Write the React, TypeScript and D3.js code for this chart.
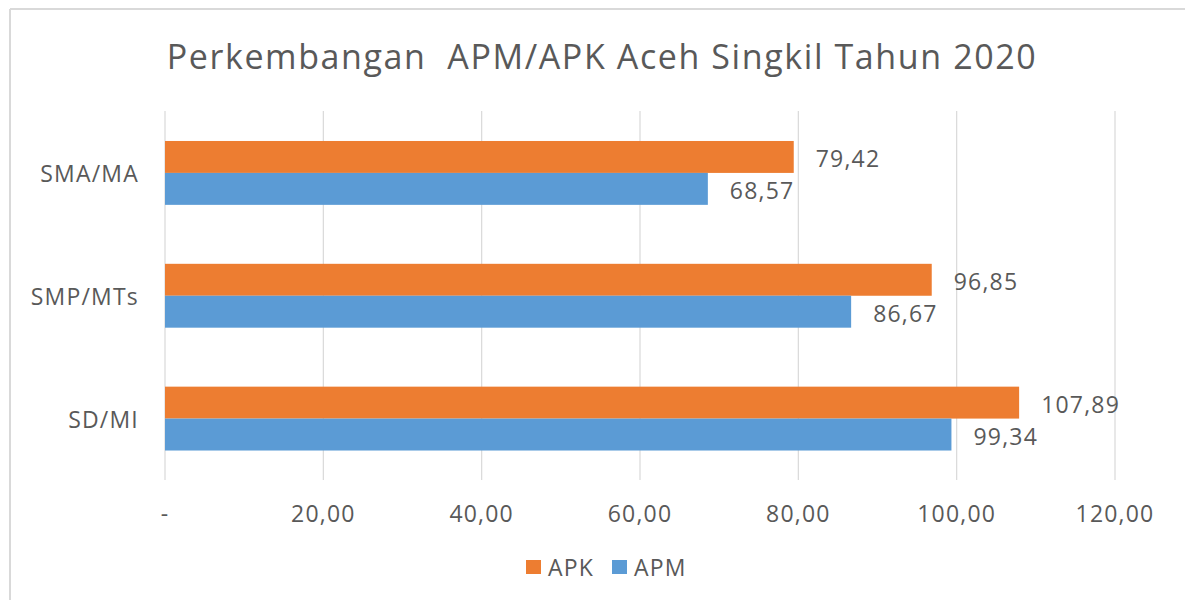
import React from "react";
import * as d3 from "d3";

const categories = ["SMA/MA", "SMP/MTs", "SD/MI"];
const seriesNames = ["APK", "APM"];
const apkValues = [79.42, 96.85, 107.89];
const apmValues = [68.57, 86.67, 99.34];
const xTicks = [0, 20, 40, 60, 80, 100, 120];
const colors = ["#ED7D31", "#5B9BD5"];

const W = 1185;
const H = 600;
const FONT = "'Open Sans', sans-serif";
const TXT = "#595959";
const FS = 23;
const LS = 1.2;

const fmt = (v: number) => (v === 0 ? "-" : v.toFixed(2).replace(".", ","));

export default function App() {
  const x = d3.scaleLinear().domain([0, 120]).range([165, 1115]);
  const y = d3.scaleBand<string>().domain(categories).range([111.5, 480]).paddingInner(0.48).paddingOuter(0.24);
  const inner = d3.scaleBand<string>().domain(seriesNames).range([0, y.bandwidth()]);
  const values = [apkValues, apmValues];

  return (
    <svg width={W} height={H} style={{ position: "absolute", left: 0, top: 0, background: "#fff" }}>
      <rect x={0} y={0} width={W} height={H} fill="#fff" />
      <line x1={10} x2={W} y1={9} y2={9} stroke="#d9d9d9" strokeWidth={2} />
      <line x1={10} x2={10} y1={9} y2={H} stroke="#d9d9d9" strokeWidth={2} />
      <text x={602} y={56} textAnchor="middle" dominantBaseline="central" fontFamily={FONT} fontSize={34} letterSpacing={1.6} fill={TXT} style={{ whiteSpace: "pre" }}>
        {"Perkembangan  APM/APK Aceh Singkil Tahun 2020"}
      </text>
      {xTicks.map((t) => (
        <g key={t}>
          <line x1={x(t)} x2={x(t)} y1={111} y2={480} stroke="#d9d9d9" strokeWidth={1.2} />
          <text x={x(t)} y={513} textAnchor="middle" dominantBaseline="central" fontFamily={FONT} fontSize={FS} letterSpacing={LS} fill={TXT}>
            {fmt(t)}
          </text>
        </g>
      ))}
      {categories.map((c, i) => (
        <g key={c}>
          <text x={139} y={(y(c) as number) + y.bandwidth() / 2} textAnchor="end" dominantBaseline="central" fontFamily={FONT} fontSize={FS} letterSpacing={LS} fill={TXT}>
            {c}
          </text>
          {seriesNames.map((s, j) => {
            const v = values[j][i];
            const by = (y(c) as number) + (inner(s) as number);
            return (
              <g key={s}>
                <rect x={x(0)} y={by} width={x(v) - x(0)} height={inner.bandwidth()} fill={colors[j]} />
                <text x={x(v) + 22} y={by + inner.bandwidth() / 2 + 1.5} dominantBaseline="central" fontFamily={FONT} fontSize={FS} letterSpacing={LS} fill={TXT}>
                  {fmt(v)}
                </text>
              </g>
            );
          })}
        </g>
      ))}
      {seriesNames.map((s, j) => {
        const lx = [526, 612][j];
        return (
          <g key={s}>
            <rect x={lx} y={560} width={15} height={14} fill={colors[j]} />
            <text x={lx + 22} y={567} dominantBaseline="central" fontFamily={FONT} fontSize={FS} letterSpacing={LS} fill={TXT}>
              {s}
            </text>
          </g>
        );
      })}
    </svg>
  );
}
